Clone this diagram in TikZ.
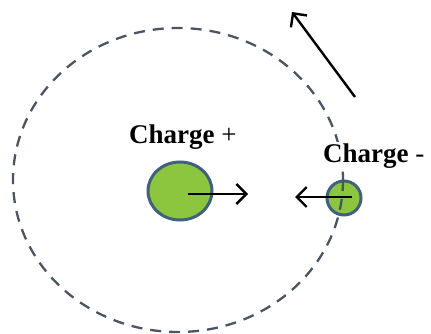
\documentclass[tikz,border=0pt]{standalone}
\usepackage{fontspec}
\setmainfont{Liberation Serif}
\newfontfamily\chargefont{Liberation Serif}
\usetikzlibrary{shapes.geometric,arrows.meta}
\definecolor{chargefill}{HTML}{8CC63F}
\definecolor{chargeline}{HTML}{41607C}
\definecolor{orbitline}{HTML}{4A5563}
\begin{document}
\begin{tikzpicture}[
        x=1pt, y=-1pt,
        every node/.style={font=\chargefont\fontsize{27}{30}\selectfont\bfseries},
        chargebox/.style={ellipse, draw=chargeline, fill=chargefill,
            line width=3pt, inner sep=0pt},
        orbit/.style={draw=orbitline, line width=2.3pt,
            dash pattern=on 11pt off 8pt},
        label/.style={anchor=base west, inner sep=1pt, text=black},
        force/.style={-{Straight Barb[length=10pt,width=20pt]},
            line width=2.4pt, draw=black}
      ]
      \useasboundingbox (0,0) rectangle (431,334);
      \node[chargebox, minimum width=64pt, minimum height=58pt]
      (pos) at (180,191) {};
      \node[chargebox, minimum width=34pt, minimum height=34pt]
      (neg) at (344,198) {};
      % orbit of the negative charge
      \draw[orbit] (178,180) ellipse [x radius=165, y radius=152];
      \node[label] (poslabel) at (128,143) {Charge \mdseries+};
      \node[label, fill=white] (neglabel) at (322,162) {Charge \mdseries-};
      \coordinate (posforce) at (248,194);
      \coordinate (negforce) at (295,197);
      \coordinate (velstart) at (355,97);
      \coordinate (velend) at (292,12);
      \draw[force] ([xshift=8pt,yshift=-3pt]pos.center) -- (posforce);
      \draw[force] ([xshift=8pt,yshift=1pt]neg.center) -- (negforce);
      \draw[force] (velstart) -- (velend);
    \end{tikzpicture}
\end{document}
